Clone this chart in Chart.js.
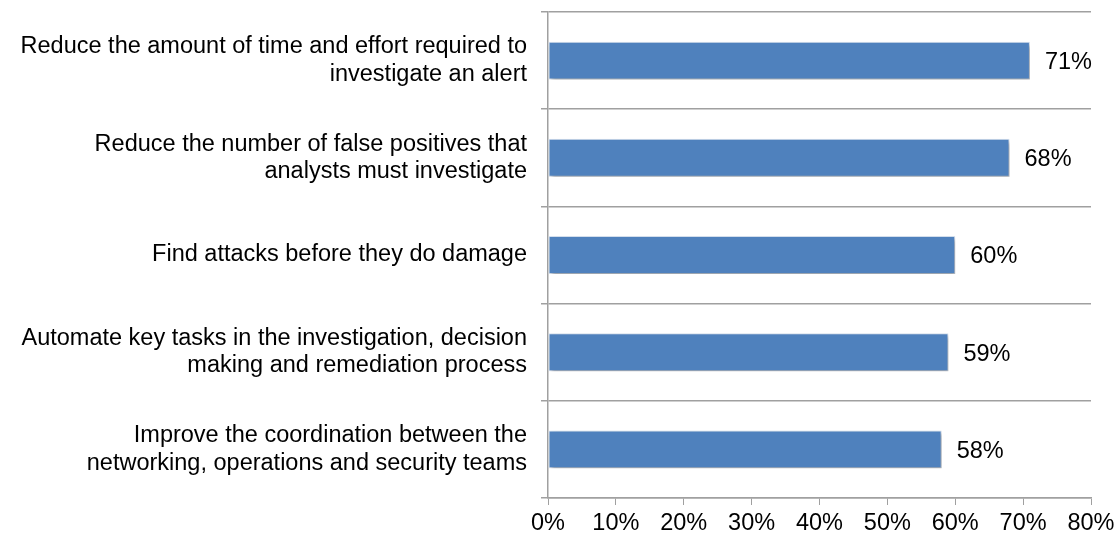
<!DOCTYPE html>
<html>
<head>
<meta charset="utf-8">
<script src="https://cdn.jsdelivr.net/npm/chart.js@4"></script>
<style>
  html, body { margin: 0; padding: 0; background: #fff; }
  #wrap { width: 1119px; height: 542px; position: relative; }
</style>
</head>
<body>
<div id="wrap"><canvas id="barChart"></canvas></div>
<script>
// data
const categories = [
  ['Reduce the amount of time and effort required to', 'investigate an alert'],
  ['Reduce the number of false positives that', 'analysts must investigate'],
  ['Find attacks before they do damage'],
  ['Automate key tasks in the investigation, decision', 'making and remediation process'],
  ['Improve the coordination between the', 'networking, operations and security teams']
];
const values = [71, 68, 60, 59, 58];
const axisMax = 80;
const axisStep = 10;

const barColor = '#4F81BD';
const lineColor = '#A0A0A0';
const fontFamily = '"Liberation Sans", Arial, sans-serif';

// soft drop shadow under bars, then the value labels
const barDecor = {
  id: 'barDecor',
  beforeDatasetsDraw(chart) {
    const ctx = chart.ctx;
    ctx.save();
    ctx.shadowColor = 'rgba(0, 0, 0, 0.3)';
    ctx.shadowBlur = 4;
    ctx.shadowOffsetX = 2;
    ctx.shadowOffsetY = 3;
  },
  afterDatasetsDraw(chart) {
    const ctx = chart.ctx;
    ctx.restore();
    ctx.save();
    ctx.fillStyle = '#000';
    ctx.font = '23.5px ' + fontFamily;
    ctx.textAlign = 'left';
    ctx.textBaseline = 'middle';
    const meta = chart.getDatasetMeta(0);
    meta.data.forEach((bar, i) => {
      ctx.fillText(values[i] + '%', bar.x + 15, bar.y + 2);
    });
    ctx.restore();
  }
};

new Chart(document.getElementById('barChart'), {
  type: 'bar',
  data: {
    labels: categories,
    datasets: [{
      data: values,
      backgroundColor: barColor,
      borderColor: '#D6E1EF',
      borderWidth: 1,
      borderSkipped: false,
      barPercentage: 0.78,
      categoryPercentage: 0.5
    }]
  },
  options: {
    indexAxis: 'y',
    responsive: true,
    maintainAspectRatio: false,
    animation: false,
    layout: { padding: { top: 12, right: 28, left: 0, bottom: 0 } },
    plugins: {
      legend: { display: false },
      tooltip: { enabled: false }
    },
    scales: {
      x: {
        min: 0,
        max: axisMax,
        ticks: {
          stepSize: axisStep,
          color: '#000',
          font: { family: fontFamily, size: 23.5 },
          padding: 4,
          callback: v => v + '%'
        },
        grid: {
          drawOnChartArea: false,
          drawTicks: true,
          tickLength: 7,
          color: lineColor
        },
        border: { color: lineColor, width: 1.5 },
        afterFit: scale => {
          scale.height = 44;
          scale.paddingLeft = 0;
          scale.paddingRight = 0;
        }
      },
      y: {
        ticks: {
          color: '#000',
          font: { family: fontFamily, size: 23.5, lineHeight: 1.16 },
          padding: 14
        },
        grid: {
          offset: true,
          drawTicks: true,
          tickLength: 7,
          color: lineColor,
          lineWidth: 1.5
        },
        border: { color: lineColor, width: 1.5 },
        afterFit: scale => {
          scale.width = 548;
          scale.paddingTop = 0;
          scale.paddingBottom = 0;
        }
      }
    }
  },
  plugins: [barDecor]
});
</script>
</body>
</html>
